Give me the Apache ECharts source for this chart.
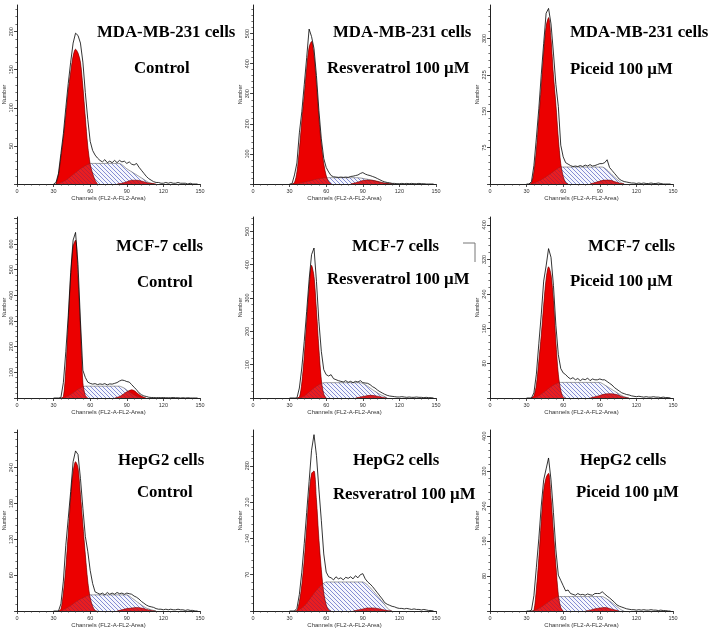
<!DOCTYPE html>
<html><head><meta charset="utf-8">
<script src="https://cdn.jsdelivr.net/npm/echarts@6/dist/echarts.min.js"></script>
<style>html,body{margin:0;padding:0;background:#fff}#c{width:708px;height:632px}</style>
</head><body><div id="c"></div>
<script>
// ---------- data ----------
const CHANNELS = [30,32,34,36,38,40,42,44,46,48,50,52,54,56,58,60,62,64,66,68,70,72,74,76,78,80,82,84,86,88,90,92,94,96,98,100,102,104,106,108,110,112,114,116,118,120,122,124,126,128,130,132,134,136,138,140,142,144,146,148];
const X_TICKS = [0,30,60,90,120,150];
const CELL_LINES = ['MDA-MB-231 cells','MDA-MB-231 cells','MDA-MB-231 cells','MCF-7 cells','MCF-7 cells','MCF-7 cells','HepG2 cells','HepG2 cells','HepG2 cells'];
const TREATMENTS = ['Control','Resveratrol 100 µM','Piceid 100 µM','Control','Resveratrol 100 µM','Piceid 100 µM','Control','Resveratrol 100 µM','Piceid 100 µM'];
const Y_MAX = [235,595,369,705,543,418,303,349,414];
const Y_STEP = [50,100,75,100,100,80,60,70,80];
const P1_YLABELS = [50,100,150,200];
const P2_YLABELS = [100,200,300,400,500];
const P3_YLABELS = [75,150,225,300];
const P4_YLABELS = [100,200,300,400,500,600];
const P5_YLABELS = [100,200,300,400,500];
const P6_YLABELS = [80,160,240,320,400];
const P7_YLABELS = [60,120,180,240];
const P8_YLABELS = [70,140,210,280];
const P9_YLABELS = [80,160,240,320,400];

// raw histogram (counts at CHANNELS)
const P1_RAW = [0,2,14,40,66,100,132,160,185,198, 195,185,160,120,85,56,44,38,34,31, 29,32,28,30,28,31,28,31,29,30, 27,29,26,25,27,22,18,14,10,7, 5,3,2,2,1,1,2,1,2,1, 1,2,1,1,1,0,1,0,0,0];
const P2_RAW = [0,1,30,70,170,240,330,420,515,490, 450,360,245,150,85,55,40,28,24,23, 22,23,22,23,22,25,26,28,30,35, 38,33,30,28,25,22,18,14,10,7, 5,4,2,2,1,1,2,1,2,1, 2,1,1,2,1,1,0,0,0,0];
const P3_RAW = [0,0,5,38,95,155,225,290,352,362, 330,270,205,160,80,56,44,41,38,36, 37,36,38,36,39,37,40,37,38,40, 42,42,44,50,34,28,22,16,10,7, 5,4,3,2,2,1,2,1,2,1, 1,2,1,1,2,1,0,0,0,0];
const P4_RAW = [0,0,0,2,60,180,320,490,615,645, 520,300,108,80,62,57,54,56,52,55, 53,56,51,55,54,57,60,66,70,68, 64,62,52,42,32,20,13,8,6,3, 2,2,1,2,1,2,1,1,1,2, 1,1,0,1,0,1,0,0,0,0];
const P5_RAW = [0,0,0,0,30,90,170,260,355,430, 450,350,230,140,85,70,66,70,58,55, 52,50,48,52,47,50,46,50,48,52, 46,45,44,40,34,30,24,19,15,11, 8,6,5,4,3,3,4,3,2,3, 2,2,3,2,2,1,2,1,1,0];
const P6_RAW = [0,0,0,12,55,125,192,270,305,345, 325,260,168,100,68,58,54,48,44,47, 42,45,40,44,42,46,40,44,42,42, 44,42,42,38,34,30,24,20,16,12, 10,8,7,5,4,3,4,3,2,3, 2,2,3,2,2,1,2,1,1,0];
const P7_RAW = [0,0,0,12,50,110,155,200,250,268, 262,222,172,125,100,68,46,32,30,28, 30,27,31,28,30,28,31,29,30,28, 30,29,28,25,23,20,16,13,10,8, 7,6,4,3,3,2,3,2,3,2, 2,3,2,2,1,2,1,1,0,0];
const P8_RAW = [0,0,0,5,32,75,130,190,250,310, 340,300,235,175,110,75,66,64,60,66, 62,64,60,65,63,66,62,68,64,70, 72,62,56,52,47,41,35,29,23,16, 13,11,9,8,6,5,5,4,5,4, 3,4,3,3,2,3,2,1,1,0];
const P9_RAW = [0,0,2,35,100,165,240,300,325,350, 300,225,140,82,70,58,46,48,40,38, 36,40,37,38,36,39,37,36,40,40, 40,44,39,34,30,25,20,14,11,9, 7,5,4,3,3,2,3,2,3,2, 2,3,2,2,1,2,1,1,0,0];

// G0/G1 peak [channel, count]
const P1_G1 = [[32,0],[34,12],[36,35],[38,60],[40,90],[42,122],[44,147],[46,168],[48,177],[50,172],[52,160],[54,128],[56,88],[58,50],[60,26],[62,14],[64,5],[66,0]];
const P2_G1 = [[32,0],[34,5],[36,40],[38,115],[40,210],[42,295],[44,385],[46,455],[48,474],[50,425],[52,330],[54,220],[56,130],[58,68],[60,28],[62,8],[64,0]];
const P3_G1 = [[32,0],[34,2],[36,25],[38,70],[40,135],[42,200],[44,270],[46,325],[48,343],[50,300],[52,225],[54,165],[56,95],[58,42],[60,16],[62,3],[64,0]];
const P4_G1 = [[36,0],[38,5],[40,110],[42,290],[44,470],[46,590],[48,615],[50,470],[52,270],[54,60],[56,10],[58,0]];
const P5_G1 = [[36,0],[38,2],[40,45],[42,125],[44,230],[46,330],[48,398],[50,365],[52,265],[54,150],[56,55],[58,12],[60,0]];
const P6_G1 = [[34,0],[36,5],[38,30],[40,85],[42,145],[44,215],[46,275],[48,303],[50,285],[52,225],[54,130],[56,55],[58,18],[60,2],[62,0]];
const P7_G1 = [[34,0],[36,3],[38,30],[40,72],[42,130],[44,190],[46,233],[48,250],[50,240],[52,195],[54,145],[56,95],[58,50],[60,22],[62,8],[64,1],[66,0]];
const P8_G1 = [[34,0],[36,1],[38,18],[40,50],[42,98],[44,160],[46,225],[48,265],[50,270],[52,215],[54,140],[56,80],[58,35],[60,12],[62,2],[64,0]];
const P9_G1 = [[34,0],[36,2],[38,50],[40,120],[42,205],[44,275],[46,305],[48,315],[50,260],[52,180],[54,105],[56,38],[58,8],[60,0]];

// G2/M peak
const P1_G2 = [[82,0],[86,1],[90,3],[94,5],[98,5],[102,4],[106,2],[110,1],[114,0]];
const P2_G2 = [[80,0],[84,4],[88,9],[92,13],[96,13],[100,11],[104,7],[108,3],[112,1],[116,0]];
const P3_G2 = [[82,0],[86,3],[90,6],[94,8],[98,8],[102,5],[106,2],[110,0]];
const P4_G2 = [[80,0],[84,6],[88,18],[92,29],[94,32],[96,29],[100,14],[104,3],[106,0]];
const P5_G2 = [[84,0],[88,3],[92,6],[96,8],[100,7],[104,4],[108,1],[110,0]];
const P6_G2 = [[82,0],[86,3],[90,6],[94,9],[98,10],[102,9],[106,6],[110,2],[114,0]];
const P7_G2 = [[82,0],[86,2],[90,4],[94,5],[98,6],[102,5],[106,3],[110,1],[114,0]];
const P8_G2 = [[82,0],[86,2],[90,4],[94,6],[98,6],[102,5],[106,3],[110,1],[114,0]];
const P9_G2 = [[78,0],[82,2],[86,5],[90,7],[94,8],[98,6],[102,3],[106,0]];

// S phase
const P1_S = [[32,0],[36,2],[40,5],[44,10],[48,15],[52,20],[56,24],[60,27],[84,27],[90,20],[96,14],[102,8],[108,2],[112,0]];
const P2_S = [[34,0],[40,4],[46,10],[52,16],[58,20],[62,21],[84,21],[88,20],[96,14],[104,6],[110,2],[114,0]];
const P3_S = [[34,0],[40,6],[46,15],[52,26],[56,33],[58,35],[92,35],[96,29],[100,19],[104,10],[108,2],[110,0]];
const P4_S = [[38,0],[42,8],[46,20],[50,34],[54,44],[56,46],[84,46],[88,38],[92,24],[96,12],[100,4],[104,0]];
const P5_S = [[38,0],[42,6],[46,18],[50,30],[54,40],[58,46],[88,46],[92,40],[96,30],[100,20],[104,11],[108,4],[110,0]];
const P6_S = [[36,0],[40,5],[44,13],[48,22],[52,30],[56,35],[58,36],[90,36],[94,30],[98,23],[102,16],[106,9],[110,3],[114,0]];
const P7_S = [[36,0],[40,4],[44,9],[48,15],[52,20],[56,24],[60,27],[90,27],[94,22],[98,16],[102,10],[106,5],[110,2],[114,0]];
const P8_S = [[36,0],[40,6],[44,15],[48,28],[52,40],[56,50],[60,56],[90,56],[94,50],[98,40],[102,29],[106,18],[110,6],[112,2],[114,0]];
const P9_S = [[34,0],[38,3],[42,9],[46,17],[50,25],[54,31],[57,33],[92,33],[96,27],[100,19],[104,10],[108,2],[110,0]];

const RAWS = [P1_RAW,P2_RAW,P3_RAW,P4_RAW,P5_RAW,P6_RAW,P7_RAW,P8_RAW,P9_RAW];
const G1S = [P1_G1,P2_G1,P3_G1,P4_G1,P5_G1,P6_G1,P7_G1,P8_G1,P9_G1];
const G2S = [P1_G2,P2_G2,P3_G2,P4_G2,P5_G2,P6_G2,P7_G2,P8_G2,P9_G2];
const SS = [P1_S,P2_S,P3_S,P4_S,P5_S,P6_S,P7_S,P8_S,P9_S];
const YLABELS = [P1_YLABELS,P2_YLABELS,P3_YLABELS,P4_YLABELS,P5_YLABELS,P6_YLABELS,P7_YLABELS,P8_YLABELS,P9_YLABELS];

// ---------- layout ----------
const GRID_LEFT = [17, 253, 490];
const GRID_TOP = [5, 217, 430];
const GRID_BASE = [184, 398, 611];
const GRID_W = 183;
const TITLE_POS = [[97,33,134,69],[333,33,327,69],[570,33,570,70],[116,247,137,283],[352,247,327,280],[588,247,570,282],[118,461,137,493],[353,461,333,495],[580,461,576,493]];

function makeHatch(){
  const c=document.createElement('canvas'); c.width=4; c.height=4;
  const g=c.getContext('2d');
  g.fillStyle='rgba(225,228,250,0.35)'; g.fillRect(0,0,4,4);
  g.strokeStyle='rgba(55,70,185,0.75)'; g.lineWidth=0.8;
  g.beginPath(); g.moveTo(-1,-1); g.lineTo(5,5); g.stroke();
  g.beginPath(); g.moveTo(-1,3); g.lineTo(1,5); g.stroke();
  g.beginPath(); g.moveTo(3,-1); g.lineTo(5,1); g.stroke();
  return c;
}
const HATCH = makeHatch();

const LBL = {fontFamily:'Liberation Sans', color:'#333'};
const grids=[], xAxes=[], yAxes=[], series=[], graphics=[];
for(let i=0;i<9;i++){
  const col=i%3, row=Math.floor(i/3);
  const top=GRID_TOP[row], base=GRID_BASE[row];
  grids.push({left:GRID_LEFT[col], top:top, width:GRID_W, height:base-top, outerBoundsMode:'none'});
  xAxes.push({type:'value', gridIndex:i, min:0, max:150, interval:30,
    name:'Channels (FL2-A-FL2-Area)', nameLocation:'middle', nameGap:11,
    nameTextStyle:Object.assign({fontSize:6}, LBL),
    axisLine:{lineStyle:{color:'#222',width:1}},
    axisTick:{length:3, lineStyle:{color:'#222',width:0.8}},
    minorTick:{show:true, splitNumber:5, length:1.6, lineStyle:{color:'#333',width:0.7}},
    axisLabel:Object.assign({fontSize:5.5, margin:4.5}, LBL),
    splitLine:{show:false}, minorSplitLine:{show:false}});
  const step=Y_STEP[i], ymax=Y_MAX[i];
  const major=[], minor=[];
  for(let v=0; v<=ymax+1e-9; v+=step) major.push(v);
  for(let k=0; k*step/5<=ymax+1e-9; k++) minor.push(Math.round(k*step/5*1000)/1000);
  yAxes.push({type:'value', gridIndex:i, position:'left', min:0, max:ymax,
    name:'Number', nameLocation:'middle', nameGap:8, nameRotate:90,
    nameTextStyle:Object.assign({fontSize:5.5}, LBL),
    axisLine:{show:true, onZero:false, lineStyle:{color:'#222',width:1}},
    axisTick:{show:true, length:3, customValues:major, lineStyle:{color:'#222',width:0.8}},
    axisLabel:Object.assign({rotate:90, fontSize:5.5, margin:3, customValues:YLABELS[i]}, LBL),
    splitLine:{show:false}});
  yAxes.push({type:'value', gridIndex:i, position:'left', min:0, max:ymax,
    axisLine:{show:false, onZero:false},
    axisTick:{show:true, length:1.6, customValues:minor, lineStyle:{color:'#333',width:0.7}},
    axisLabel:{show:false}, splitLine:{show:false}});
  const common={type:'line', xAxisIndex:i, yAxisIndex:2*i, symbol:'none', silent:true, animation:false};
  // solid red peaks
  series.push(Object.assign({}, common, {data:G1S[i], smooth:0.3,
    lineStyle:{width:0}, areaStyle:{color:'#ff0000',opacity:1}, z:2}));
  series.push(Object.assign({}, common, {data:G2S[i], smooth:0.3,
    lineStyle:{width:0}, areaStyle:{color:'#ff0000',opacity:1}, z:2}));
  // hatched S phase
  series.push(Object.assign({}, common, {data:SS[i], smooth:0.2,
    lineStyle:{color:'#444',width:0.5}, areaStyle:{color:{image:HATCH, repeat:'repeat'},opacity:1}, z:3}));
  // translucent red overlay so overlaps look dark red
  series.push(Object.assign({}, common, {data:G1S[i], smooth:0.3,
    lineStyle:{color:'#6a0000',width:0.6}, areaStyle:{color:'#e00000',opacity:0.62}, z:4}));
  series.push(Object.assign({}, common, {data:G2S[i], smooth:0.3,
    lineStyle:{color:'#6a0000',width:0.5}, areaStyle:{color:'#d00000',opacity:0.62}, z:4}));
  // raw histogram
  series.push(Object.assign({}, common, {data:CHANNELS.map((c,k)=>[c,RAWS[i][k]]),
    lineStyle:{color:'#000',width:0.8}, z:5}));
  const tp=TITLE_POS[i];
  graphics.push({type:'text', z:10, style:{text:CELL_LINES[i], x:tp[0], y:tp[1], fill:'#000',
    font:'bold 16.8px "Liberation Serif"', align:'left', verticalAlign:'middle'}});
  graphics.push({type:'text', z:10, style:{text:TREATMENTS[i], x:tp[2], y:tp[3], fill:'#000',
    font:'bold 16.8px "Liberation Serif"', align:'left', verticalAlign:'middle'}});
}
graphics.push({type:'polyline', shape:{points:[[463,243],[475,243],[475,262]]}, style:{stroke:'#777', lineWidth:1, fill:null}});

const chart = echarts.init(document.getElementById('c'), null, {renderer:'canvas'});
chart.setOption({animation:false, backgroundColor:'#fff', grid:grids, xAxis:xAxes, yAxis:yAxes, series:series, graphic:graphics});
</script></body></html>
